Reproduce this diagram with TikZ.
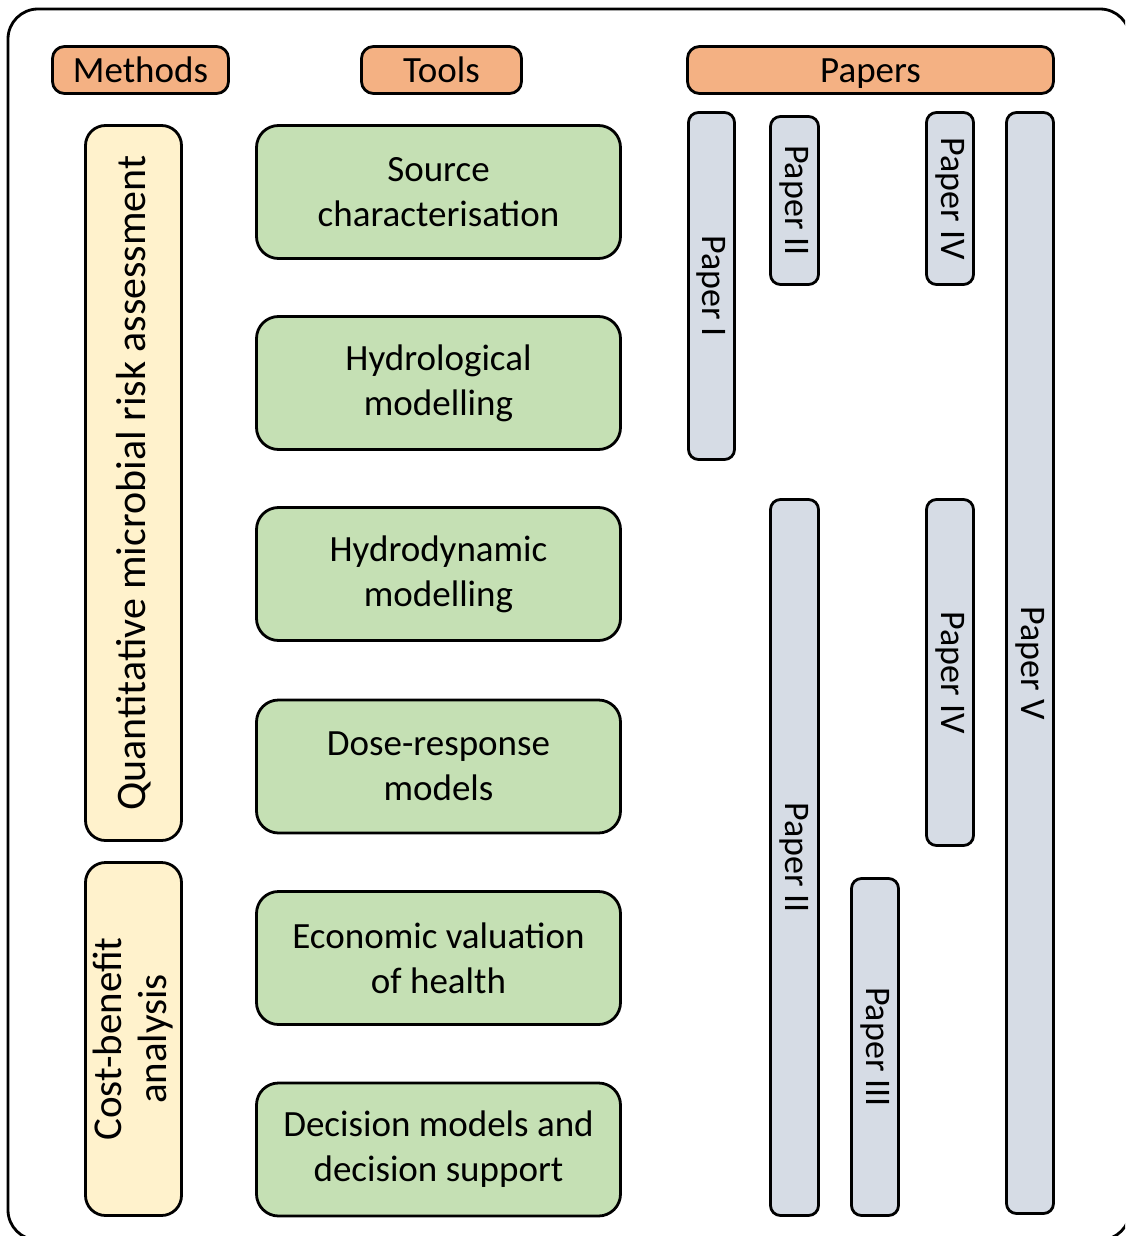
\documentclass[tikz,border=0pt]{standalone}
\usepackage{fontspec}
\setmainfont{Carlito}
\definecolor{hdrfill}{HTML}{F4B183}
\definecolor{methfill}{HTML}{FFF2CC}
\definecolor{toolfill}{HTML}{C5E0B4}
\definecolor{paperfill}{HTML}{D6DCE5}
\begin{document}
\begin{tikzpicture}[x=1pt,y=-1pt,
  box/.style={draw=black,line width=2.8pt,inner sep=0pt,align=center},
  hdr/.style={box,fill=hdrfill,rounded corners=12pt,font=\fontsize{37}{44}\selectfont,text height=26pt,text depth=0pt},
  meth/.style={box,fill=methfill,rounded corners=20pt,rotate=90},
  tool/.style={box,fill=toolfill,rounded corners=22pt,minimum width=364pt,minimum height=133pt,font=\fontsize{37}{45}\selectfont},
  paper/.style={box,fill=paperfill,rounded corners=10pt,rotate=-90,font=\fontsize{36}{42}\selectfont}]
\useasboundingbox (0,0) rectangle (1125,1236);
\begin{scope}
\clip (0,0) rectangle (1125,1236);
\draw[line width=2.8pt,rounded corners=30pt] (8,9) rectangle (1130,1240);
\end{scope}
% headers
\node[hdr,minimum width=176pt,minimum height=47pt] (methods) at (140.5,70) {Methods};
\node[hdr,minimum width=160pt,minimum height=47pt] (tools) at (441.5,70) {Tools};
\node[hdr,minimum width=366pt,minimum height=47pt] (papers) at (870.5,70) {Papers};
% methods
\node[meth,minimum width=715pt,minimum height=96pt,font=\fontsize{42}{48}\selectfont] (qmra) at (133.5,483) {Quantitative microbial risk assessment};
\node[meth,minimum width=353pt,minimum height=96pt,font=\fontsize{41}{45}\selectfont] (cba) at (133.5,1039) {Cost-benefit\\analysis};
% tools
\node[tool] (src) at (438.5,192) {Source\\characterisation};
\node[tool] (hydro) at (438.5,383) {Hydrological\\modelling};
\node[tool] (hdyn) at (438.5,574) {Hydrodynamic\\modelling};
\node[tool] (dose) at (438.5,766.5) {Dose-response\\models};
\node[tool] (econ) at (438.5,958) {Economic valuation\\of health};
\node[tool] (dec) at (438.5,1149.5) {Decision models and\\decision support};
% papers
\node[paper,minimum width=347pt,minimum height=46pt] (p1) at (711.5,286) {Paper I};
\node[paper,minimum width=168pt,minimum height=48pt] (p2a) at (794.5,200.5) {Paper II};
\node[paper,minimum width=172pt,minimum height=47pt] (p4a) at (950,198.5) {Paper IV};
\node[paper,minimum width=1101pt,minimum height=47pt] (p5) at (1030,663) {Paper V};
\node[paper,minimum width=716pt,minimum height=48pt] (p2b) at (794.5,857.5) {Paper II};
\node[paper,minimum width=346pt,minimum height=47pt] (p4b) at (950,672.5) {Paper IV};
\node[paper,minimum width=337pt,minimum height=47pt] (p3) at (875,1047) {Paper III};
\end{tikzpicture}
\end{document}
